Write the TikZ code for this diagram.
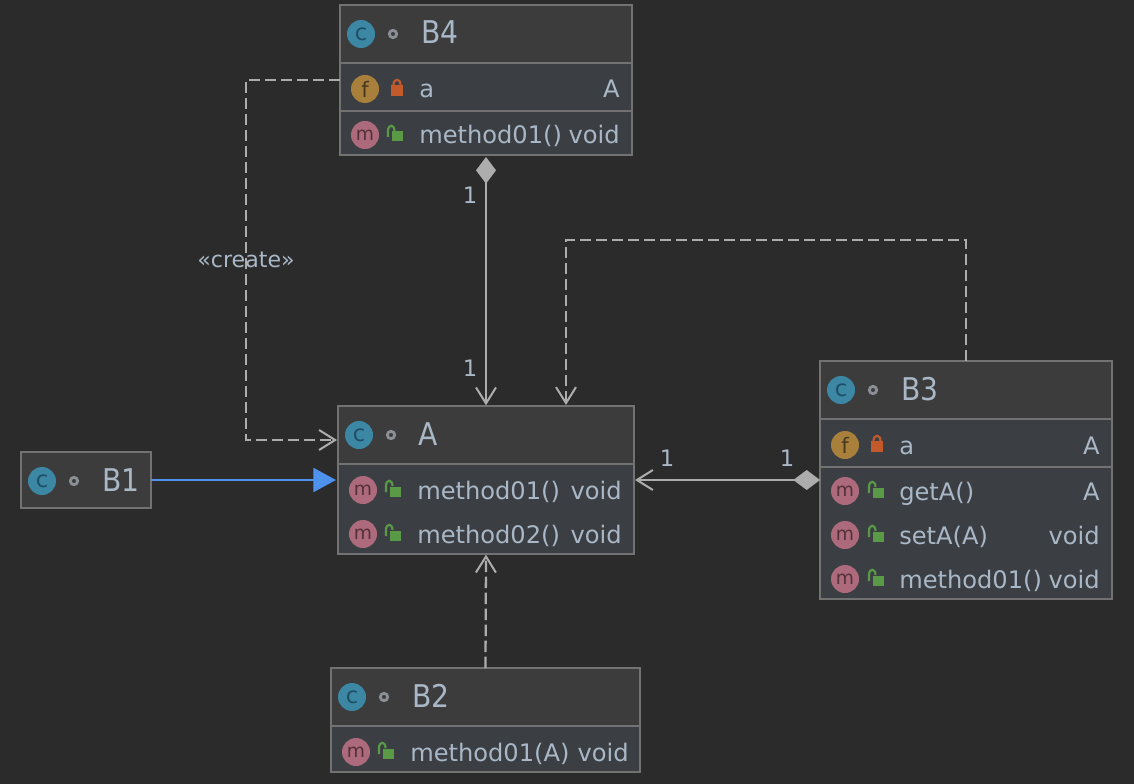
\documentclass[tikz,border=0pt]{standalone}
\usepackage{fontspec}
\setmainfont{DejaVu Sans}
\newfontfamily\titlefam[FakeStretch=0.9]{DejaVu Sans}
\usetikzlibrary{arrows.meta}
\definecolor{bg}{HTML}{2B2B2B}
\definecolor{hdr}{HTML}{3C3C3C}
\definecolor{rowc}{HTML}{3B3F43}
\definecolor{edge}{HTML}{727272}
\definecolor{txt}{HTML}{A9B7C6}
\definecolor{conn}{HTML}{ADADAD}
\definecolor{iconteal}{HTML}{3B87A4}
\definecolor{tealt}{HTML}{1F4F66}
\definecolor{gold}{HTML}{A8803C}
\definecolor{goldt}{HTML}{4A3A20}
\definecolor{pinkc}{HTML}{AC6A7C}
\definecolor{pinkt}{HTML}{54303A}
\definecolor{lockr}{HTML}{C35A2C}
\definecolor{lockg}{HTML}{5A9A46}
\definecolor{ringc}{HTML}{8A9096}
\definecolor{blueline}{HTML}{4F92EE}
\tikzset{
  x=.75pt,y=-.75pt,
  sectbase/.style={inner sep=0,outer sep=0,draw=edge,line width=1.6pt},
  headsect/.style={sectbase,fill=hdr},
  bodysect/.style={sectbase,fill=rowc},
  framesect/.style={inner sep=0,outer sep=0,draw=edge,line width=1.6pt},
  titletext/.style={anchor=base west,text=txt,inner sep=0,font=\titlefam\fontsize{23.5}{23.5}\selectfont},
  rowtext/.style={anchor=base west,text=txt,inner sep=0,font=\fontsize{18.1}{18.1}\selectfont},
  rowright/.style={anchor=base east,text=txt,inner sep=0,font=\fontsize{18.1}{18.1}\selectfont},
  multtext/.style={text=txt,inner sep=0,font=\fontsize{17}{17}\selectfont},
  iconbase/.style={circle,inner sep=0,minimum size=21pt},
  cicon/.style={iconbase,fill=iconteal,text=tealt,font=\fontsize{17}{17}\selectfont},
  ficon/.style={iconbase,fill=gold,text=goldt,font=\fontsize{16}{16}\selectfont},
  micon/.style={iconbase,fill=pinkc,text=pinkt,font=\fontsize{14}{14}\selectfont},
  ringmark/.style={circle,inner sep=0,minimum size=5.5pt,draw=ringc,line width=2.1pt},
  relline/.style={draw=conn,line width=1.7pt},
  reldash/.style={relline,dash pattern=on 8.5pt off 3.5pt},
  barbtip/.style={-{Straight Barb[length=12pt,width=15pt,line width=1.5pt]}},
  rhombbarb/.style={{Turned Square[length=20pt,width=15pt,fill=conn,sep=0pt]}-{Straight Barb[length=12pt,width=15pt,line width=1.5pt]}},
}
\newcommand{\sectbox}[6]{%
  \pgfmathsetmacro{\bw}{(#4-#2)*.75}\pgfmathsetmacro{\bh}{(#5-#3)*.75}%
  \node[#6,minimum width=\bw pt,minimum height=\bh pt] (#1) at ({(#2+#4)/2},{(#3+#5)/2}) {};}
\newcommand{\lockic}[2]{%
  \fill[lockr] (#1-6,#2-4) rectangle (#1+6,#2+7);
  \draw[lockr,line width=1.6pt] (#1-3.5,#2-4) .. controls (#1-3.5,#2-11) and (#1+3.5,#2-11) .. (#1+3.5,#2-4);}
\newcommand{\unlockic}[2]{%
  \fill[lockg] (#1-4.5,#2-3.5) rectangle (#1+7,#2+6.5);
  \draw[lockg,line width=1.6pt] (#1-8,#2+2) -- (#1-8,#2-4) .. controls (#1-8,#2-11) and (#1-1.5,#2-11) .. (#1-1.5,#2-4);}
\begin{document}
\begin{tikzpicture}
\fill[bg] (0,0) rectangle (1134,784);
\useasboundingbox (0,0) rectangle (1134,784);

% B4
\sectbox{b4h}{340}{5}{632}{63}{headsect}
\sectbox{b4f}{340}{63}{632}{111}{bodysect}
\sectbox{b4m}{340}{111}{632}{155}{bodysect}
\sectbox{b4}{340}{5}{632}{155}{framesect}
\node[cicon] (b4c) at (361,34) {c};
\node[ringmark] (b4r) at (393,34) {};
\node[titletext] (b4t) at (421,44) {B4};
\node[ficon] (b4fi) at (365,89) {f};
\lockic{397}{89}
\node[rowtext] (b4ft) at (419,98) {a};
\node[rowright] (b4fr) at (620,98) {A};
\node[micon] (b4mi) at (365,135) {m};
\unlockic{396}{135}
\node[rowtext] (b4mt) at (419,144) {method01()};
\node[rowright] (b4mr) at (620,144) {void};

% A
\sectbox{ah}{338}{406}{634}{464}{headsect}
\sectbox{am}{338}{464}{634}{554}{bodysect}
\sectbox{a}{338}{406}{634}{554}{framesect}
\node[cicon] (ac) at (359,435) {c};
\node[ringmark] (ar) at (391,435) {};
\node[titletext] (at) at (418,445) {A};
\node[micon] (am1i) at (363,490) {m};
\unlockic{394}{490}
\node[rowtext] (am1t) at (417,499) {method01()};
\node[rowright] (am1r) at (622,499) {void};
\node[micon] (am2i) at (363,534) {m};
\unlockic{394}{534}
\node[rowtext] (am2t) at (417,543) {method02()};
\node[rowright] (am2r) at (622,543) {void};

% B3
\sectbox{b3h}{820}{361}{1112}{419}{headsect}
\sectbox{b3f}{820}{419}{1112}{467}{bodysect}
\sectbox{b3m}{820}{467}{1112}{599}{bodysect}
\sectbox{b3}{820}{361}{1112}{599}{framesect}
\node[cicon] (b3c) at (841,390) {c};
\node[ringmark] (b3r) at (873,390) {};
\node[titletext] (b3t) at (901,400) {B3};
\node[ficon] (b3fi) at (845,445) {f};
\lockic{877}{445}
\node[rowtext] (b3ft) at (899,454) {a};
\node[rowright] (b3fr) at (1100,454) {A};
\node[micon] (b3m1i) at (845,491) {m};
\unlockic{877}{491}
\node[rowtext] (b3m1t) at (899,500) {getA()};
\node[rowright] (b3m1r) at (1100,500) {A};
\node[micon] (b3m2i) at (845,535) {m};
\unlockic{877}{535}
\node[rowtext] (b3m2t) at (899,544) {setA(A)};
\node[rowright] (b3m2r) at (1100,544) {void};
\node[micon] (b3m3i) at (845,579) {m};
\unlockic{877}{579}
\node[rowtext] (b3m3t) at (899,588) {method01()};
\node[rowright] (b3m3r) at (1100,588) {void};

% B1
\sectbox{b1}{21}{452}{151}{508}{headsect}
\node[cicon] (b1c) at (42,481) {c};
\node[ringmark] (b1r) at (74,481) {};
\node[titletext] (b1t) at (102,491) {B1};

% B2
\sectbox{b2h}{331}{668}{640}{726}{headsect}
\sectbox{b2m}{331}{726}{640}{772}{bodysect}
\sectbox{b2}{331}{668}{640}{772}{framesect}
\node[cicon] (b2c) at (352,697) {c};
\node[ringmark] (b2r) at (384,697) {};
\node[titletext] (b2t) at (412,707) {B2};
\node[micon] (b2mi) at (356,752) {m};
\unlockic{387}{752}
\node[rowtext] (b2mt) at (410,761) {method01(A)};
\node[rowright] (b2mr) at (629,761) {void};

% connector ends
\coordinate (acreate) at (337,440);
\coordinate (abend1) at (246,80);
\coordinate (abend2) at (246,440);
\coordinate (ablue) at (336,480);
\coordinate (aright) at (635,480);
\coordinate (b3left) at (820,480);
\coordinate (atop) at (566,405);
\coordinate (b3up) at (966,240);
\coordinate (atopup) at (566,240);

% connectors
\draw[reldash,barbtip] (b4.west) -- (abend1) -- (abend2) -- (acreate);
\draw[relline,rhombbarb] ([yshift=-1.5pt]b4.south) -- ([yshift=.5pt]a.north);
\draw[reldash,barbtip] (b3.north) -- (b3up) -- (atopup) -- (atop);
\draw[relline,rhombbarb] (b3left) -- (aright);
\draw[reldash,barbtip] (b2.north) -- ([yshift=-.5pt]a.south);
\draw[draw=blueline,line width=1.7pt,-{Triangle[length=17pt,width=18pt,fill=blueline]}] (b1.east) -- (ablue);

% labels
\node[multtext] (l1) at (470,195) {1};
\node[multtext] (l2) at (470,368) {1};
\node[multtext] (l3) at (667,458) {1};
\node[multtext] (l4) at (787,458) {1};
\node[text=txt,inner sep=0,font=\fontsize{16.6}{16.6}\selectfont] (lc) at (246,260) {«create»};
\end{tikzpicture}
\end{document}
